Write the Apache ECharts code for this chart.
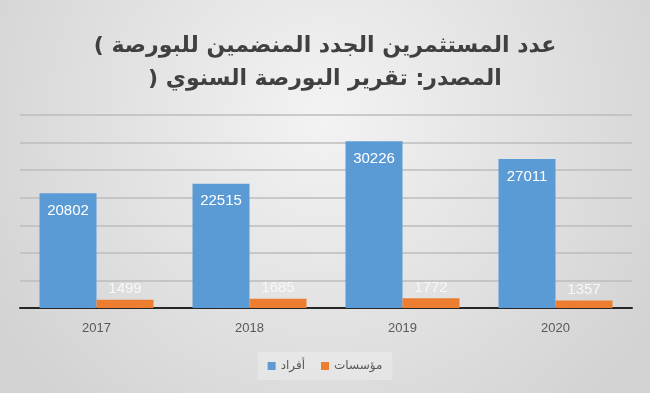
<!DOCTYPE html>
<html>
<head>
<meta charset="utf-8">
<script src="https://cdn.jsdelivr.net/npm/echarts@6/dist/echarts.min.js"></script>
<style>html,body{margin:0;padding:0;}#c{width:650px;height:393px;}</style>
</head>
<body>
<div id="c"></div>
<script>
const titleLine1 = "\u202A( عدد المستثمرين الجدد المنضمين للبورصة\u202C";
const titleLine2 = "\u202A) المصدر: تقرير البورصة السنوي\u202C";
const categories = ["2017", "2018", "2019", "2020"];
const seriesNames = ["أفراد", "مؤسسات"];
const individuals = [20802, 22515, 30226, 27011];
const institutions = [1499, 1685, 1772, 1357];

const chart = echarts.init(document.getElementById('c'));
chart.setOption({
  animation: false,
  backgroundColor: {
    type: 'radial', x: 0.5, y: 0.3, r: 1.0,
    colorStops: [{offset: 0, color: '#f3f3f3'}, {offset: 1, color: '#d2d2d2'}]
  },
  title: {
    text: titleLine1 + "\n" + titleLine2,
    left: 320, top: 25, textAlign: 'center',
    textStyle: {
      fontFamily: "'DejaVu Sans', sans-serif",
      fontSize: 22, fontWeight: 'bold', color: '#404040', lineHeight: 33, align: 'center'
    }
  },
  legend: {
    data: seriesNames,
    bottom: 13,
    left: 'center',
    itemWidth: 8, itemHeight: 8, itemGap: 16,
    icon: 'rect',
    padding: [8, 10],
    backgroundColor: 'rgba(255,255,255,0.25)',
    textStyle: {fontFamily: "'DejaVu Sans', sans-serif", fontSize: 12, color: '#595959'}
  },
  grid: {left: 20, right: 18, top: 115, bottom: 85, containLabel: false},
  xAxis: {
    type: 'category',
    data: categories,
    axisLine: {lineStyle: {color: '#262626', width: 2}},
    axisTick: {show: false},
    axisLabel: {color: '#595959', fontSize: 13, fontFamily: "'Liberation Sans', Arial, sans-serif", margin: 14}
  },
  yAxis: {
    type: 'value',
    min: 0, max: 35000, interval: 5000,
    axisLabel: {show: false},
    axisLine: {show: false},
    axisTick: {show: false},
    splitLine: {lineStyle: {color: '#bcbcbc', width: 1.5}}
  },
  series: [
    {
      name: seriesNames[0], type: 'bar', data: individuals,
      barGap: '0%', barCategoryGap: '25.5%',
      itemStyle: {color: '#5B9BD5'},
      label: {show: true, position: 'insideTop', distance: 10, color: '#ffffff',
        fontSize: 15, fontFamily: "'Liberation Sans', Arial, sans-serif"}
    },
    {
      name: seriesNames[1], type: 'bar', data: institutions,
      barGap: '0%', barCategoryGap: '25.5%',
      itemStyle: {color: '#ED7D31'},
      label: {show: true, position: 'top', distance: 3, color: '#f7f7f7',
        fontSize: 15, fontFamily: "'Liberation Sans', Arial, sans-serif"}
    }
  ]
});
</script>
</body>
</html>
